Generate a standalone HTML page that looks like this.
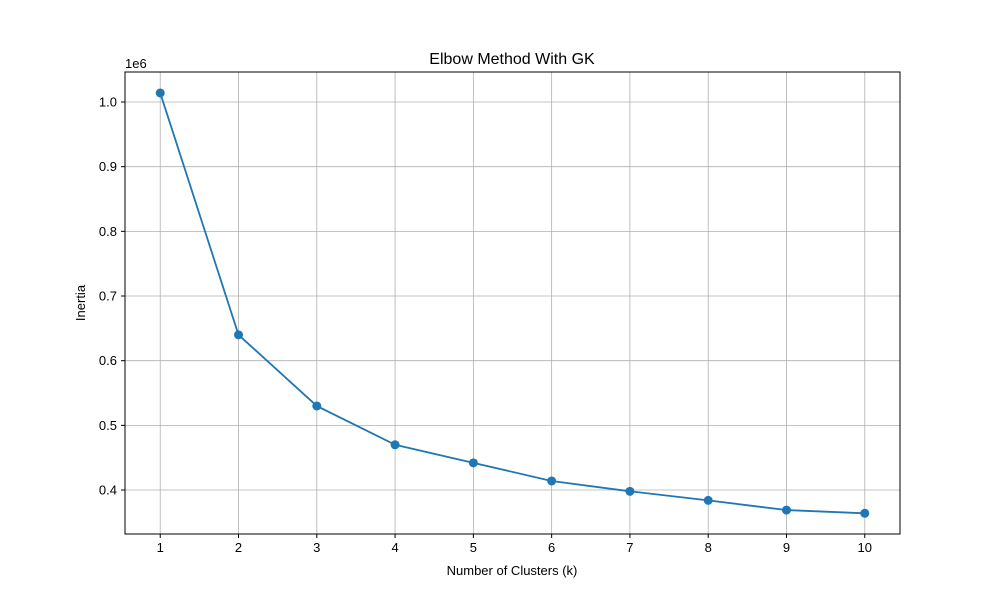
<!DOCTYPE html>
<html><head><meta charset="utf-8"><style>
body{margin:0;background:#fff;}
svg{font-family:"Liberation Sans","DejaVu Sans",sans-serif;}
</style></head><body>
<svg id="chart" width="1000" height="600">
<rect x="0" y="0" width="1000" height="600" fill="#fff"/>
<g id="grid"></g>
<g id="xticks"></g>
<g id="yticks"></g>
<g id="series"></g>
<rect x="125" y="72" width="775" height="462" fill="none" stroke="#000" stroke-width="1"/>
<text x="512" y="64" font-size="16" text-anchor="middle">Elbow Method With GK</text>
<text x="512" y="575" font-size="13" text-anchor="middle">Number of Clusters (k)</text>
<text x="85" y="303" font-size="13" text-anchor="middle" transform="rotate(-90 85 303)">Inertia</text>
<text x="125" y="68" font-size="13">1e6</text>
</svg>
<script>
const categories=[1,2,3,4,5,6,7,8,9,10];
const inertia=[1.014,0.640,0.530,0.470,0.442,0.414,0.398,0.384,0.369,0.364];
const yTicks=[0.4,0.5,0.6,0.7,0.8,0.9,1.0];
const yTickLabels=["0.4","0.5","0.6","0.7","0.8","0.9","1.0"];
const NS="http://www.w3.org/2000/svg";
const L=125,R=900,T=72,B=534;
const xMin=0.55,xMax=10.45,yMin=0.332,yMax=1.0464;
function xs(v){return L+(v-xMin)/(xMax-xMin)*(R-L);}
function ys(v){return B-(v-yMin)/(yMax-yMin)*(B-T);}
function mk(tag,attrs,parent){const e=document.createElementNS(NS,tag);for(const k in attrs)e.setAttribute(k,attrs[k]);parent.appendChild(e);return e;}
const grid=document.getElementById('grid'),xt=document.getElementById('xticks'),yt=document.getElementById('yticks'),ser=document.getElementById('series');
categories.forEach(c=>{const x=xs(c);
 const g=mk('line',{x1:x,x2:x,y1:T,y2:B,stroke:'#b0b0b0','stroke-width':0.8},grid);
 
 
 mk('line',{x1:x,x2:x,y1:B,y2:B+4,stroke:'#000'},xt);
 const t=mk('text',{x:x,y:B+18,'font-size':13,'text-anchor':'middle'},xt);t.textContent=c;
 
 
});
yTicks.forEach((v,i)=>{const y=ys(v);
 const g=mk('line',{x1:L,x2:R,y1:y,y2:y,stroke:'#b0b0b0','stroke-width':0.8},grid);
 
 
 mk('line',{x1:L-4,x2:L,y1:y,y2:y,stroke:'#000'},yt);
 const t=mk('text',{x:L-8,y:y+4.5,'font-size':13,'text-anchor':'end'},yt);t.textContent=yTickLabels[i];
 
 
});
const pts=categories.map((c,i)=>xs(c)+','+ys(inertia[i])).join(' ');
const line=mk('polyline',{points:pts,fill:'none',stroke:'#1f77b4','stroke-width':1.8},ser);


categories.forEach((c,i)=>{const p=mk('circle',{cx:xs(c),cy:ys(inertia[i]),r:4.5,fill:'#1f77b4'},ser);
 
 
});
</script>
</body></html>
